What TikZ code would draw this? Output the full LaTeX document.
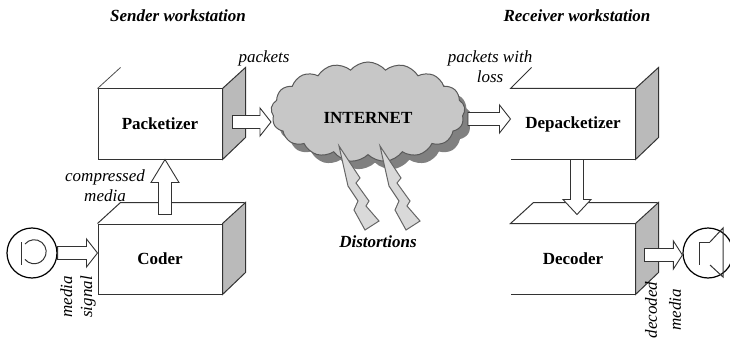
\documentclass[tikz,border=0pt]{standalone}
\usepackage{fontspec}
\setmainfont{Liberation Serif}
\usetikzlibrary{shapes.symbols, shadows, calc, positioning}

\tikzset{
  face/.style={minimum width=124, minimum height=70, inner sep=0pt, draw=black!80,
    font=\bfseries\fontsize{17}{19}\selectfont},
  sidefill/.style={fill=black!27, draw=black!80, line width=1pt},
  blockarrow/.style={draw=black!80, fill=white, line width=0.9pt, line join=miter},
  lbl/.style={font=\itshape\fontsize{17}{20}\selectfont, inner sep=0pt, align=center},
  title/.style={font=\bfseries\itshape\fontsize{17}{20}\selectfont, inner sep=0pt},
  boltfill/.style={fill=black!15, draw=black!60, line width=1pt, line join=miter},
}

% grey side of a box, depth up and to the right
\newcommand{\boxside}[1]{\draw[sidefill] (#1.north east) -- ++(23,-21) -- ++(0,70) -- (#1.south east) -- cycle;}

% hollow block arrow from #2 to #3, head length #1
\newcommand{\blockarrow}[3][12]{%
  \path (#2); \pgfgetlastxy{\bax}{\bay}
  \path (#3); \pgfgetlastxy{\bbx}{\bby}
  \pgfmathsetmacro{\baang}{atan2(\bby-\bay,\bbx-\bax)}
  \pgfmathsetmacro{\balen}{veclen(\bbx-\bax,\bby-\bay)}
  \begin{scope}[shift={(\bax,\bay)}, rotate=\baang]
    \draw[blockarrow] (0pt,-6.5pt) -- (\balen pt-#1pt,-6.5pt) -- (\balen pt-#1pt,-14pt)
      -- (\balen pt,0pt) -- (\balen pt-#1pt,14pt) -- (\balen pt-#1pt,6.5pt) -- (0pt,6.5pt) -- cycle;
  \end{scope}}

% lightning bolt hanging from #1
\newcommand{\drawbolt}[1]{\draw[boltfill] (#1) -- ++(21,32) -- ++(-4,5) -- ++(13,18) -- ++(-3,5)
  -- ++(13,15) -- ++(-14,9) -- ++(-11,-20) -- ++(4,-9) -- ++(-10,-15) -- cycle;}

\begin{document}
\begin{tikzpicture}[x=1pt, y=-1pt, line width=1pt]
  \useasboundingbox (0,0) rectangle (730,342);

  % titles
  \node[title] (sendT) at (178,16) {Sender workstation};
  \node[title] (recvT) at (577,16) {Receiver workstation};

  % sender side
  \node[face] (pk) at (160,124) {Packetizer};
  \node[face, below=64pt of pk] (cd) {Coder};
  \boxside{pk}
  \boxside{cd}
  \draw[black!70, line width=0.8pt] (pk.north west) -- ++(23,-21);
  \draw[black!80] (cd.north west) -- ++(23,-21) -- ++(124,0);

  % receiver side (no left edge)
  \node[face, draw=none] (dp) at (573,124) {Depacketizer};
  \node[face, draw=none, below=64pt of dp] (dc) {Decoder};
  \draw[black!80] (dp.south east) -- (dp.south west);
  \draw[black!80] (dp.north east) -- (dp.north west) -- ++(21,-21);
  \draw[black!80] (dc.south east) -- (dc.south west);
  \draw[black!80] (dc.north east) -- (dc.north west) -- ++(23,-21) -- ++(124,0);
  \boxside{dp}
  \boxside{dc}

  % network
  \node[cloud, cloud puffs=17, cloud puff arc=100, aspect=2, draw=black!65, fill=black!22,
    minimum width=194, minimum height=100,
    general shadow={fill=black!50, shadow xshift=7pt, shadow yshift=-8pt},
    font=\bfseries\fontsize{17}{19}\selectfont] (net) at (368,112)
    {\raisebox{-6pt}[\height][\depth]{INTERNET}};
  \coordinate (b1) at (339,146);
  \coordinate (b2) at (380,146);
  \drawbolt{b1}
  \drawbolt{b2}

  % microphone and speaker
  \node[circle, draw, line width=1.2pt, minimum size=50, inner sep=0pt] (mic) at (32,253) {};
  \draw[black!80] (mic.center) ++(-11,-11) -- ++(0,23);
  \draw[black!80] (mic.center) ++(-7,-9) arc[start angle=-140, end angle=140, radius=12];
  \node[circle, draw, line width=1.2pt, minimum size=50, inner sep=0pt] (spk) at (708,253) {};
  \draw[black!80] (spk.center) ++(2,-11) -- ++(-11,0) -- ++(0,23);
  \draw[black!80] (spk.center) ++(2,-11) -- ++(13,-14) -- ++(0,49) -- ++(-13,-12);

  % block arrows
  \coordinate (cm0) at ($(cd.north)+(5,-9)$);
  \coordinate (pkt0) at ($(pk.east)+(10,-2)$);
  \coordinate (loss0) at ($(net.east)+(3,7)$);
  \coordinate (dn0) at ($(dp.south)+(4,0)$);
  \coordinate (dn1) at ($(dc.north)+(4,-9)$);
  \coordinate (dm0) at ($(dc.east)+(9,-4)$);
  \blockarrow[11]{mic.east}{cd.west |- mic.east}
  \blockarrow[23]{cm0}{cm0 |- pk.south}
  \blockarrow[11]{pkt0}{net.west |- pkt0}
  \blockarrow[11]{loss0}{dp.west |- loss0}
  \blockarrow[15]{dn0}{dn1}
  \blockarrow[9]{dm0}{spk.west |- dm0}

  % labels
  \node[lbl] (pktL) at (264,58) {packets};
  \node[lbl] (lossL) at (490,67) {packets with\\loss};
  \node[lbl] (cmL) at (105,186) {compressed\\media};
  \node[lbl, rotate=90] (msL) at (78,297) {media\\signal};
  \node[lbl, rotate=90] (dmL) at (663,310) {decoded\\[4pt]media};
  \node[title] (distL) at (378,242) {Distortions};
\end{tikzpicture}
\end{document}
